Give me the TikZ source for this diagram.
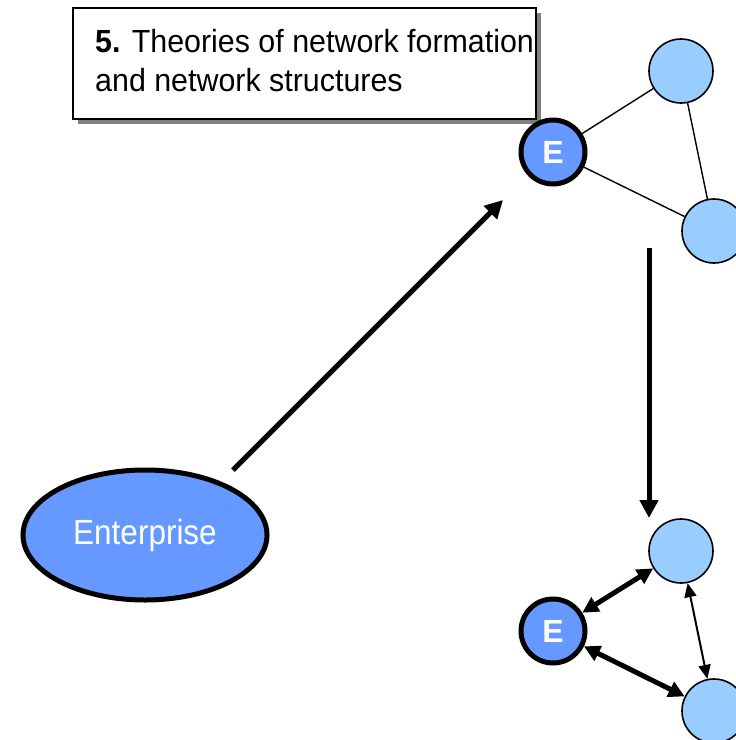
\documentclass[tikz,border=0pt]{standalone}
\usepackage{fontspec}
\setmainfont{Liberation Sans}
\newfontfamily\narrowfont[FakeStretch=0.9]{Liberation Sans}
\newfontfamily\titlefont[FakeStretch=0.95]{Liberation Sans}
\usetikzlibrary{arrows.meta,shapes.geometric}

\definecolor{edark}{HTML}{6699FF}
\definecolor{elight}{HTML}{99CCFF}
\definecolor{shadowgray}{HTML}{808080}

\tikzset{
  enode/.style={circle, draw=black, line width=5pt, fill=edark,
    minimum size=64pt, inner sep=0pt, text=white,
    font=\fontsize{32}{34}\selectfont\bfseries},
  pnode/.style={circle, draw=black, line width=1.6pt, fill=elight,
    minimum size=64pt, inner sep=0pt},
  titletext/.style={anchor=base west, inner sep=0pt,
    font=\titlefont\fontsize{32}{36}\selectfont},
  tie/.style={line width=1.4pt, draw=black},
  bigarrow/.style={line width=5pt, -{Triangle[length=18pt,width=18pt]}},
  thickboth/.style={line width=5pt, {Triangle[length=16pt,width=16pt]}-{Triangle[length=16pt,width=16pt]}},
  thinboth/.style={line width=2pt, {Triangle[length=14pt,width=12pt]}-{Triangle[length=14pt,width=12pt]}}
}

\begin{document}
\begin{tikzpicture}[x=1pt,y=-1pt]
  \useasboundingbox (0,0) rectangle (736,740);
  \clip (0,0) rectangle (736,740);

  % title box with drop shadow
  \fill[shadowgray] (78,13) rectangle (541,124);
  \draw[line width=1.5pt, fill=white] (73,8) rectangle (536,119);
  \node[titletext] (title1) at (95,52) {\textbf{5.} Theories of network formation};
  \node[titletext] (title2) at (95,91) {and network structures};

  % upper network: enterprise linked to two partners
  \node[enode] (e1) at (553,152) {E};
  \node[pnode] (p1) at (681,71) {};
  \node[pnode] (p2) at (714,231) {};
  \draw[tie] (e1) -- (p1);
  \draw[tie] (p1) -- (p2);
  \draw[tie] (e1) -- (p2);

  % lower network: reciprocal relations
  \node[enode] (e2) at (553,631) {E};
  \node[pnode] (q1) at (681,551) {};
  \node[pnode] (q2) at (714,711) {};
  \draw[thickboth] (e2) -- (q1);
  \draw[thickboth] (e2) -- (q2);
  \draw[thinboth] (q1) -- (q2);

  % the enterprise on its own
  \node[ellipse, draw=black, line width=5pt, fill=edark,
        minimum width=244pt, minimum height=130pt, inner sep=0pt,
        text=white, font=\narrowfont\fontsize{35}{40}\selectfont] (ent) at (145,535) {\raisebox{-3pt}{Enterprise}};

  % transitions between the stages
  \coordinate (d0) at (233,470);
  \coordinate (d1) at (503,200);
  \draw[bigarrow] (d0) -- (d1);
  \coordinate (v0) at (649,248);
  \coordinate (v1) at (649,518);
  \draw[bigarrow] (v0) -- (v1);
\end{tikzpicture}
\end{document}
